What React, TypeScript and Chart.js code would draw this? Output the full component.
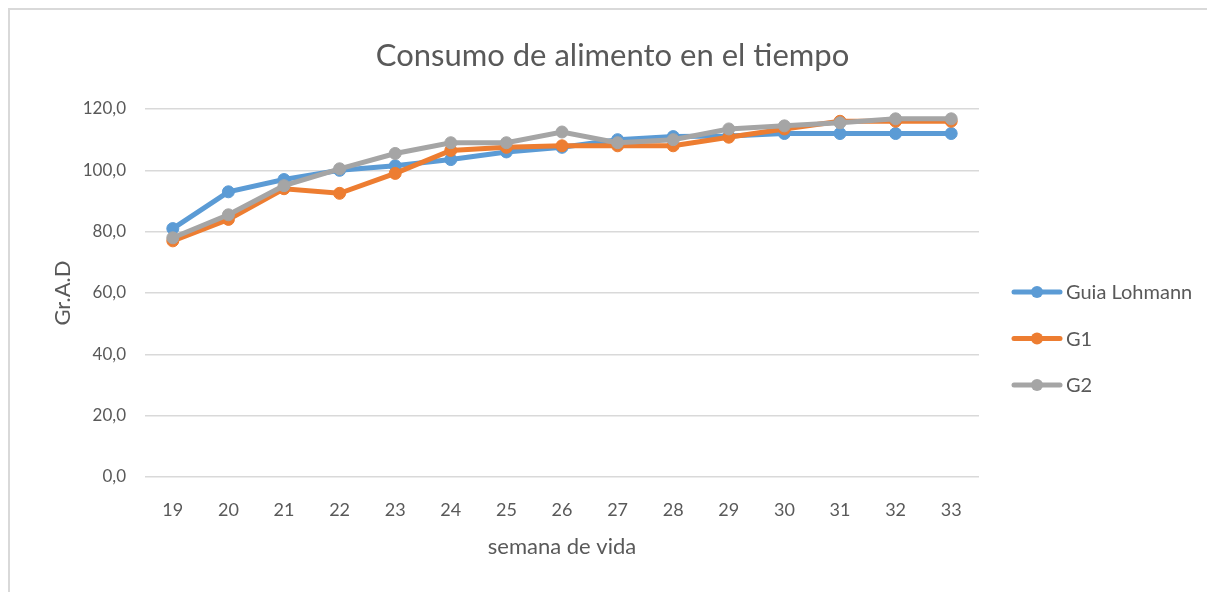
import React, { useEffect, useRef } from "react";
import { Chart, registerables } from "chart.js";

Chart.register(...registerables);

const weeks = ["19", "20", "21", "22", "23", "24", "25", "26", "27", "28", "29", "30", "31", "32", "33"];
const guiaLohmann = [81, 93, 97, 100, 101.5, 103.5, 106, 107.5, 110, 111, 111.2, 112, 112, 112, 112];
const g1 = [77, 84, 94, 92.5, 99, 106.5, 107.5, 108, 108, 108, 110.8, 113.5, 116, 116, 116];
const g2 = [78, 85.5, 95, 100.5, 105.5, 109, 109, 112.5, 109, 110, 113.5, 114.5, 115.5, 116.8, 116.8];
const seriesNames = ["Guia Lohmann", "G1", "G2"];
const seriesColors = ["#5B9BD5", "#ED7D31", "#A5A5A5"];
const chartTitle = "Consumo de alimento en el tiempo";

const FONT = "Lato, 'Open Sans', sans-serif";
const TEXT = "#595959";

const decorPlugin = {
  id: "excelDecor",
  afterDraw(chart: any) {
    const ctx = chart.ctx;
    ctx.save();
    // title centred on the whole chart
    ctx.fillStyle = TEXT;
    ctx.font = `31px ${FONT}`;
    ctx.textAlign = "center";
    ctx.textBaseline = "middle";
    ctx.fillText(chartTitle, chart.width / 2, 46);

    // legend
    const x0 = 1002;
    const y0 = 282;
    const gap = 46.5;
    chart.data.datasets.forEach((ds: any, i: number) => {
      const y = y0 + i * gap;
      ctx.strokeStyle = ds.borderColor;
      ctx.lineWidth = 5;
      ctx.lineCap = "round";
      ctx.beginPath();
      ctx.moveTo(x0 + 2, y);
      ctx.lineTo(x0 + 48, y);
      ctx.stroke();
      ctx.fillStyle = ds.borderColor;
      ctx.beginPath();
      ctx.arc(x0 + 25, y, 6, 0, Math.PI * 2);
      ctx.fill();
      ctx.fillStyle = TEXT;
      ctx.font = `20px ${FONT}`;
      ctx.textAlign = "left";
      ctx.textBaseline = "middle";
      ctx.fillText(ds.label, x0 + 54, y + 1);
    });
    ctx.restore();
  },
};

export default function App() {
  const ref = useRef<HTMLCanvasElement | null>(null);

  useEffect(() => {
    if (!ref.current) return;
    const all = [guiaLohmann, g1, g2];
    const chart = new Chart(ref.current, {
      type: "line",
      data: {
        labels: weeks,
        datasets: all.map((d, i) => ({
          label: seriesNames[i],
          data: d,
          borderColor: seriesColors[i],
          backgroundColor: seriesColors[i],
          pointBackgroundColor: seriesColors[i],
          pointBorderColor: seriesColors[i],
          borderWidth: 5,
          pointRadius: 6,
          pointBorderWidth: 1,
          tension: 0,
          order: 3 - i,
        })),
      },
      options: {
        animation: false,
        responsive: false,
        maintainAspectRatio: false,
        layout: { padding: { left: 0, right: 236, top: 99, bottom: 0 } },
        plugins: {
          legend: { display: false },
          tooltip: { enabled: false },
          title: { display: false },
        },
        scales: {
          x: {
            offset: true,
            grid: { display: false, drawTicks: false },
            border: { display: false },
            ticks: { color: TEXT, font: { family: FONT, size: 18 }, padding: 22 },
            title: {
              display: true,
              text: "semana de vida",
              color: TEXT,
              font: { family: FONT, size: 22 },
              padding: { top: 0, bottom: 32 },
            },
            afterFit(scale: any) {
              scale.height = 115;
            },
          },
          y: {
            min: 0,
            max: 120,
            grid: { color: "#D9D9D9", lineWidth: 1.5, drawTicks: false },
            border: { display: false },
            ticks: {
              stepSize: 20,
              color: TEXT,
              font: { family: FONT, size: 17 },
              padding: 19,
              callback: (v: any) => Number(v).toFixed(1).replace(".", ","),
            },
            title: {
              display: true,
              text: "Gr.A.D",
              color: TEXT,
              font: { family: FONT, size: 22 },
              padding: { top: 40, bottom: 0 },
            },
            afterFit(scale: any) {
              scale.width = 135;
            },
          },
        },
      },
      plugins: [decorPlugin],
    });
    return () => chart.destroy();
  }, []);

  return (
    <div
      style={{
        width: 1205,
        height: 582,
        borderTop: "2px solid #D9D9D9",
        borderLeft: "2px solid #D9D9D9",
        background: "#fff",
      }}
    >
      <canvas ref={ref} width={1205} height={582} style={{ display: "block" }} />
    </div>
  );
}
